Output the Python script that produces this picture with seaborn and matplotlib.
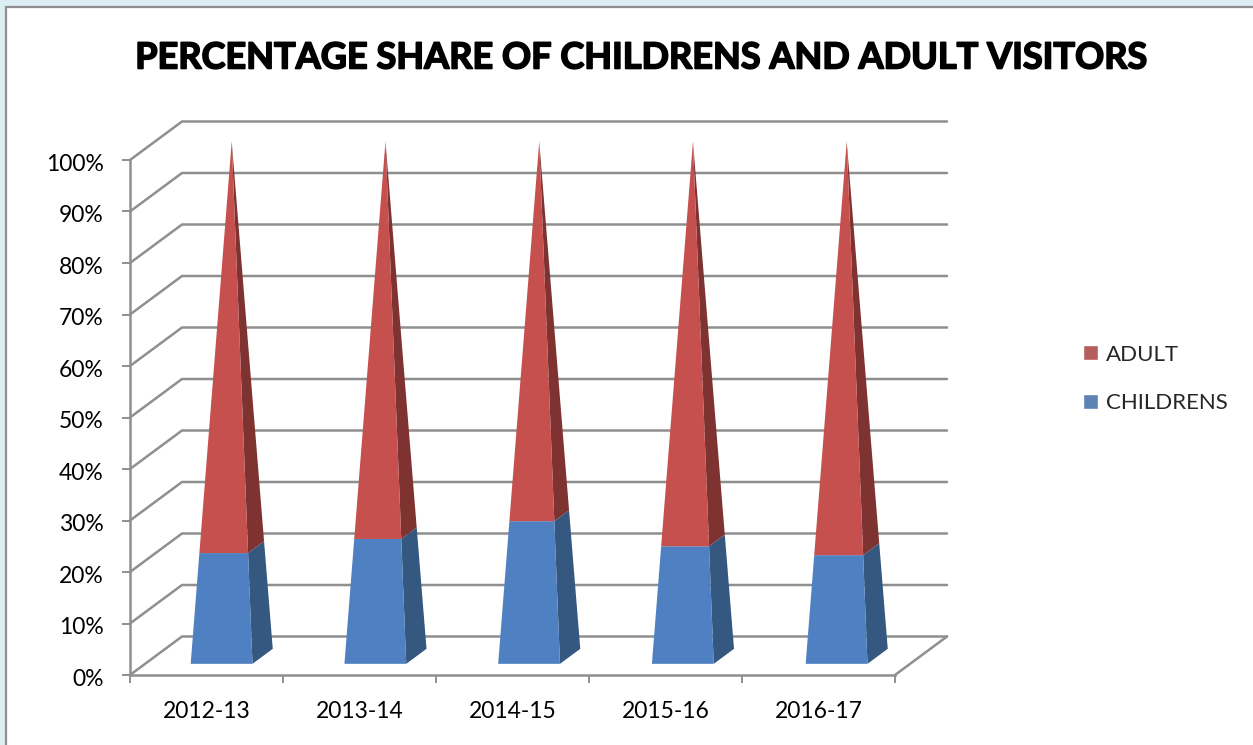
import pandas as pd
import seaborn as sns
import matplotlib.pyplot as plt
import matplotlib.patheffects as pe
from matplotlib.patches import Rectangle
from matplotlib.transforms import ScaledTranslation

years = ['2012-13', '2013-14', '2014-15', '2015-16', '2016-17']
childrens = [21.2, 23.9, 27.3, 22.5, 20.8]
adult = [78.8, 76.1, 72.7, 77.5, 79.2]
y_ticks = [0, 10, 20, 30, 40, 50, 60, 70, 80, 90, 100]

W, H = 1253, 745
GRID = '#8f8f8f'
FRONT = {'ADULT': '#c5504e', 'CHILDRENS': '#4f81c2'}
SIDE = {'ADULT': '#7f3331', 'CHILDRENS': '#34587f'}

# depth of the fake 3d box, in data units
DEPTH_X = 52 / 153
DEPTH_Y = 38.5 / 5.15
D_FRONT, D_BACK = 0.29, 0.68
D_MID = (D_FRONT + D_BACK) / 2
# pyramids sit a touch wider apart than the category ticks
SPREAD = 153.75 / 153


def project(cx, half, d, value):
    # point on a pyramid narrowing towards its tip at 100%
    t = 1 - value / 100
    dd = D_MID + (d - D_MID) * t
    return cx * SPREAD + half * t + dd * DEPTH_X, value + dd * DEPTH_Y


def draw_piece(ax, cx, half, low, high, name):
    corners = [(-half, D_FRONT, low), (half, D_FRONT, low), (half, D_FRONT, high), (-half, D_FRONT, high)]
    pts = [project(cx, h, d, v) for h, d, v in corners]
    ax.fill(*zip(*pts), color=FRONT[name], lw=0, zorder=4, clip_on=False)
    corners = [(half, D_FRONT, low), (half, D_BACK, low), (half, D_BACK, high), (half, D_FRONT, high)]
    pts = [project(cx, h, d, v) for h, d, v in corners]
    ax.fill(*zip(*pts), color=SIDE[name], lw=0, zorder=3, clip_on=False)


sns.set_style('white')
plt.rcParams['font.family'] = ['Lato', 'DejaVu Sans']

fig = plt.figure(figsize=(W / 100, H / 100), dpi=100, facecolor='#dcedf3')
fig.add_artist(Rectangle((6 / W, -0.01), 1.1, (H - 7) / H + 0.01, transform=fig.transFigure,
                         facecolor='white', edgecolor=GRID, lw=1.6, zorder=-1))
ax = fig.add_axes([130 / W, (H - 675) / H, 765 / W, 515 / H], facecolor='none')

df = pd.DataFrame({
    'year': years * 2,
    'series': ['ADULT'] * 5 + ['CHILDRENS'] * 5,
    'top': [c + a for c, a in zip(childrens, adult)] + childrens,
})
sns.barplot(data=df, x='year', y='top', hue='series', palette=FRONT, dodge=False,
            width=0.404, errorbar=None, ax=ax)

# seaborn gives the bars, each one is then redrawn as a pyramid
adult_bars, child_bars = ax.containers[0], ax.containers[1]
for a_bar, c_bar in zip(adult_bars, child_bars):
    half = c_bar.get_width() / 2
    cx = c_bar.get_x() + half
    draw_piece(ax, cx, half, 0, c_bar.get_height(), 'CHILDRENS')
    draw_piece(ax, cx, half, c_bar.get_height(), a_bar.get_height(), 'ADULT')
    a_bar.set_visible(False)
    c_bar.set_visible(False)

ax.set_xlim(-0.5, 4.5)
ax.set_ylim(0, 100)

# walls and floor
x0, x1 = ax.get_xlim()
for v in y_ticks:
    ax.plot([x0, x0 + DEPTH_X, x1 + DEPTH_X], [v, v + DEPTH_Y, v + DEPTH_Y],
            color=GRID, lw=1.8, zorder=1, clip_on=False, solid_joinstyle='miter')
ax.plot([x1 + DEPTH_X, x1], [DEPTH_Y, 0], color=GRID, lw=1.8, zorder=1, clip_on=False)

sns.despine(ax=ax, top=True, right=True)
for side in ['left', 'bottom']:
    ax.spines[side].set_color(GRID)
    ax.spines[side].set_linewidth(1.8)

ax.set_xlabel('')
ax.set_ylabel('')
ax.set_yticks(y_ticks)
ax.set_yticklabels([f'{v}%' for v in y_ticks])
ax.set_xticks([i - 0.5 for i in range(len(years) + 1)], minor=True)
ax.tick_params(axis='x', which='major', length=0, pad=19, labelsize=16.5, labelcolor='black')
ax.tick_params(axis='x', which='minor', bottom=True, length=6, width=1.4, color=GRID)
ax.tick_params(axis='y', left=True, length=6, width=1.4, color=GRID, pad=13, labelsize=16.5, labelcolor='black')

# labels sit a little under their ticks
nudge = ScaledTranslation(0, -1.5 / 72, fig.dpi_scale_trans)
for lab in ax.get_yticklabels():
    lab.set_transform(lab.get_transform() + nudge)

handles, labels = ax.get_legend_handles_labels()
ax.legend(handles, labels, loc='center left', bbox_to_anchor=(1083 / W, (H - 379) / H),
          bbox_transform=fig.transFigure, frameon=False, fontsize=16, handlelength=0.68,
          handleheight=0.68, handletextpad=0.36, labelspacing=1.3, borderpad=0, borderaxespad=0)

title = fig.text(641 / W, (H - 58) / H, 'PERCENTAGE SHARE OF CHILDRENS AND ADULT VISITORS',
                 ha='center', va='center', fontsize=26, fontweight='bold', color='black')
title.set_path_effects([pe.withStroke(linewidth=1.2, foreground='black')])

fig.savefig('out.png', dpi=100, facecolor=fig.get_facecolor())
plt.close()
